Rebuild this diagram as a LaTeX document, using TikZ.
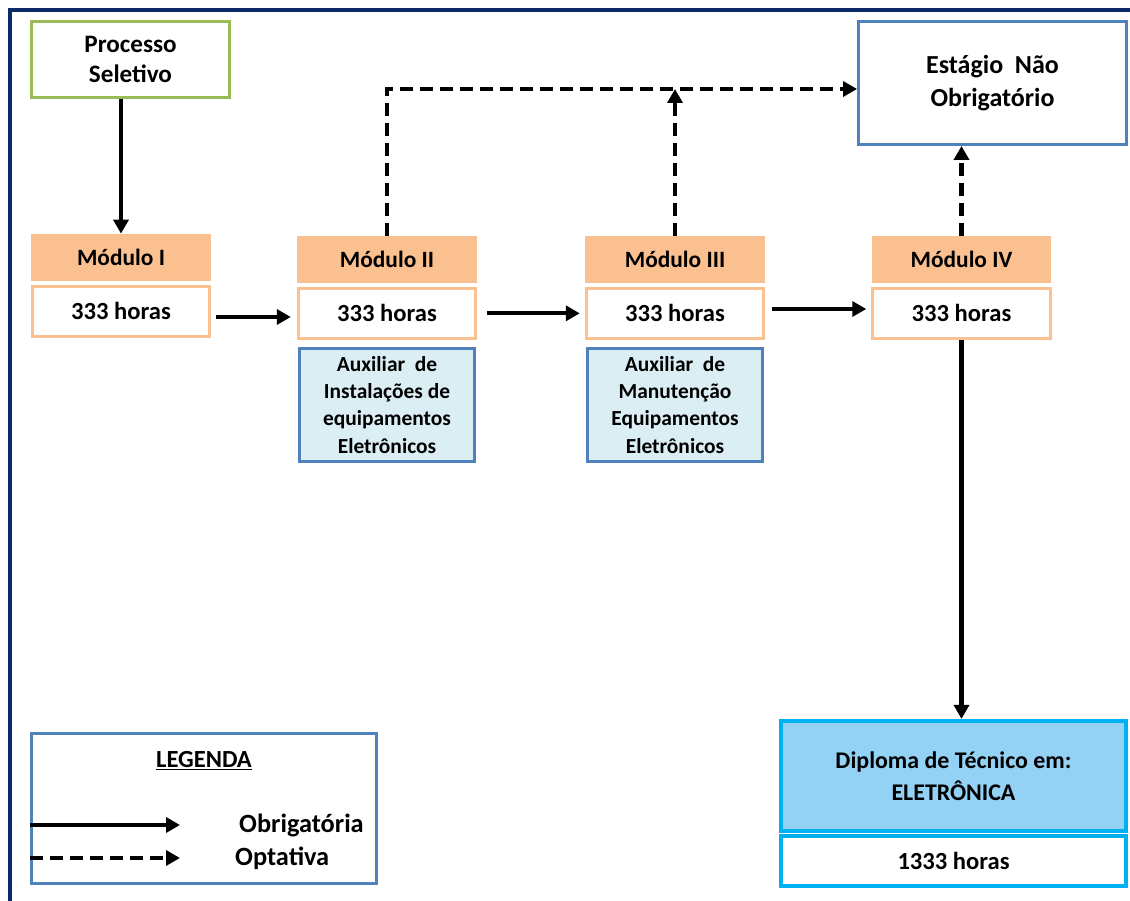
\documentclass[tikz,border=0pt]{standalone}
\usepackage{fontspec}
\setmainfont{Carlito}
\usepackage{xcolor}
\usetikzlibrary{positioning,arrows.meta}

\definecolor{framenavy}{HTML}{0A2A6A}
\definecolor{selgreen}{HTML}{9BBB59}
\definecolor{modorange}{HTML}{FAC090}
\definecolor{auxfill}{HTML}{DBEEF4}
\definecolor{boxblue}{HTML}{4F81BD}
\definecolor{dipfill}{HTML}{93D1F5}
\definecolor{dipcyan}{HTML}{00B0F0}

\begin{document}
\begin{tikzpicture}[x=0.02cm, y=-0.02cm, font=\bfseries,
  >={Triangle[length=0.28cm, width=0.3cm]},
  arr/.style={->, line width=2.3pt},
  opt/.style={arr, dash pattern=on 0.26cm off 0.14cm},
  modhead/.style={rectangle, fill=modorange, minimum width=3.6cm, minimum height=0.94cm, font=\fontsize{13.3}{16}\bfseries\selectfont},
  modhours/.style={rectangle, draw=modorange, fill=white, line width=1.7pt, minimum width=3.55cm, minimum height=1.0cm, font=\fontsize{14}{16}\bfseries\selectfont},
  auxbox/.style={rectangle, draw=boxblue, fill=auxfill, line width=1.7pt, minimum width=3.5cm, minimum height=2.26cm, align=center, font=\fontsize{12.2}{15.5}\bfseries\selectfont}]
\useasboundingbox (0,0) rectangle (1130,901);
\draw[framenavy, line width=1.8pt] (1130,10) -- (10,10) -- (10,901);

\node (sel) [rectangle, draw=selgreen, line width=1.7pt, minimum width=3.96cm, minimum height=1.52cm, align=center, font=\fontsize{14.3}{17}\bfseries\selectfont] at (130.5,59.5) {Processo\\Seletivo};
\node (est) [rectangle, draw=boxblue, line width=1.7pt, minimum width=5.36cm, minimum height=2.46cm, align=center, font=\fontsize{14.8}{19}\bfseries\selectfont] at (992.5,83) {Estágio\ \ Não\\Obrigatório};

\node (m1h) [modhead] at (121,257.5) {Módulo I};
\node (m1t) [modhours, below=0.07cm of m1h] {333 horas};
\node (m2h) [modhead] at (387,259.5) {Módulo II};
\node (m2t) [modhours, below=0.07cm of m2h] {333 horas};
\node (m2a) [auxbox, below=0.14cm of m2t] {Auxiliar\ \ de\\Instalações de\\equipamentos\\Eletrônicos};
\node (m3h) [modhead] at (675,259.5) {Módulo III};
\node (m3t) [modhours, below=0.07cm of m3h] {333 horas};
\node (m3a) [auxbox, below=0.14cm of m3t] {Auxiliar\ \ de\\Manutenção\\Equipamentos\\Eletrônicos};
\node (m4h) [modhead] at (961.5,259.5) {Módulo IV};
\node (m4t) [modhours, below=0.07cm of m4h] {333 horas};

\node (dip) [rectangle, draw=dipcyan, fill=dipfill, line width=2.4pt, minimum width=6.9cm, minimum height=2.2cm, align=center, font=\fontsize{13.6}{18}\bfseries\selectfont] at (953.5,776) {Diploma de Técnico em:\\ELETRÔNICA};
\node (diph) [rectangle, draw=dipcyan, fill=white, line width=2.4pt, minimum width=6.9cm, minimum height=1.0cm, font=\fontsize{14}{16}\bfseries\selectfont, below=0.02cm of dip] {1333 horas};

% legenda
\node (leg) [rectangle, draw=boxblue, line width=1.7pt, minimum width=6.9cm, minimum height=3.0cm] at (204,808.5) {};
\node (legt) [font=\fontsize{14}{16}\bfseries\selectfont] at (204,761) {\underline{LEGENDA}};
\coordinate (o1) at (leg.west |- 0,825);
\coordinate (o2) at (180,825);
\coordinate (p1) at (leg.west |- 0,858);
\coordinate (p2) at (180,858);
\node (obr) [anchor=west, font=\fontsize{15}{17}\bfseries\selectfont] at (233,825) {Obrigatória};
\node (opt) [anchor=west, font=\fontsize{15}{17}\bfseries\selectfont] at (229,858) {Optativa};
\draw[arr] (o1) -- (o2);
\draw[opt] (p1) -- (p2);

\draw[arr] (sel.south -| m1h.north) -- (m1h.north);
\draw[arr, shorten <=0.1cm, shorten >=0.12cm] (m1t.east |- 0,317) -- (m2t.west |- 0,317);
\draw[arr, shorten <=0.2cm, shorten >=0.1cm] (m2t.east) -- (m3t.west);
\draw[arr, shorten <=0.14cm, shorten >=0.1cm] (m3t.east |- 0,309) -- (m4t.west |- 0,309);
\draw[opt] (m2h.north) |- (est.west |- 0,89);
\draw[opt] (m3h.north) -- (m3h.north |- 0,89);
\draw[opt] (m4h.north) -- (m4h.north |- est.south);
\draw[arr] (m4t.south) -- (m4t.south |- dip.north);
\end{tikzpicture}
\end{document}
